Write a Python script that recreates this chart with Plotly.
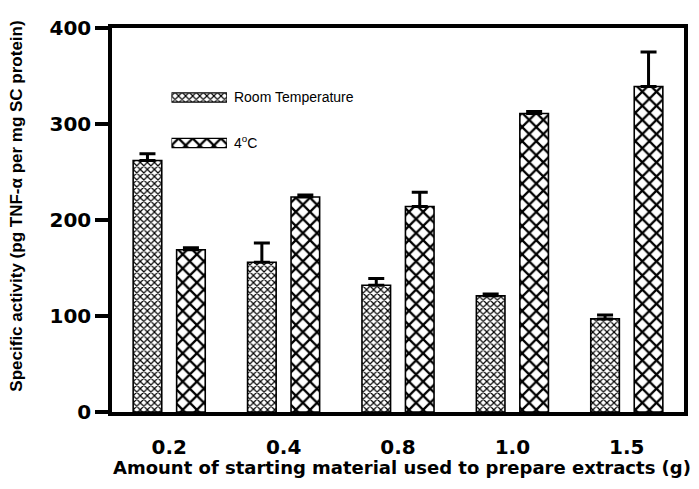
import plotly.graph_objects as go

# Amount of starting material (g) used for each extract
amounts = ["0.2", "0.4", "0.8", "1.0", "1.5"]

# Specific activity (pg TNF-alpha per mg SC protein), mean and upper error
room_temp = [262, 156, 132, 121, 97]
room_temp_err = [7, 20, 7, 2, 4]
cold_4c = [169, 224, 214, 311, 339]
cold_4c_err = [2, 2, 15, 2, 36]

series_names = ["Room Temperature", "4<sup>o</sup>C"]

BOLD = dict(family="DejaVu Sans", size=20, color="black", weight="bold")

fine_check = dict(shape="x", size=5, solidity=0.42, fgcolor="black", bgcolor="white", fillmode="replace")
coarse_check = dict(shape="x", size=10, solidity=0.4, fgcolor="black", bgcolor="white", fillmode="replace")

fig = go.Figure()

fig.add_trace(go.Bar(
    x=amounts, y=room_temp, name=series_names[0],
    width=0.25, offset=-0.315,
    marker=dict(color="white", pattern=fine_check, line=dict(color="black", width=1.6)),
    error_y=dict(type="data", symmetric=False, array=room_temp_err,
                 arrayminus=[0] * len(room_temp_err),
                 color="black", thickness=3, width=8),
    showlegend=False,
))
fig.add_trace(go.Bar(
    x=amounts, y=cold_4c, name=series_names[1],
    width=0.25, offset=0.065,
    marker=dict(color="white", pattern=coarse_check, line=dict(color="black", width=1.6)),
    error_y=dict(type="data", symmetric=False, array=cold_4c_err,
                 arrayminus=[0] * len(cold_4c_err),
                 color="black", thickness=3, width=8),
    showlegend=False,
))

# Key: one thin swatch per series on a small inset axis, labelled by its ticks
for name, pat in zip(series_names, [fine_check, coarse_check]):
    fig.add_trace(go.Bar(
        x=[1], y=[name], orientation="h", width=0.2,
        marker=dict(color="white", pattern=pat, line=dict(color="black", width=1.2)),
        xaxis="x2", yaxis="y2", showlegend=False, hoverinfo="skip",
    ))

fig.update_layout(
    width=699, height=489,
    margin=dict(l=112, r=11, t=28, b=77),
    paper_bgcolor="white", plot_bgcolor="white",
    barmode="overlay",
    xaxis=dict(
        type="category", categoryorder="array", categoryarray=amounts,
        range=[-0.5, 4.5],
        showline=True, linewidth=3.5, linecolor="black", mirror=True,
        ticks="", showgrid=False, zeroline=False,
        tickfont=BOLD, ticklabelstandoff=14,
    ),
    yaxis=dict(
        range=[0, 400], tickvals=[0, 100, 200, 300, 400],
        showline=True, linewidth=3.5, linecolor="black", mirror=True,
        ticks="outside", ticklen=13, tickwidth=3.5, tickcolor="black",
        showgrid=False, zeroline=False,
        tickfont=BOLD, ticklabelstandoff=0,
    ),
    xaxis2=dict(domain=[0.104, 0.201], anchor="y2", range=[0, 1], visible=False, fixedrange=True),
    yaxis2=dict(domain=[0.6413, 0.8783], anchor="x2", type="category",
                categoryorder="array", categoryarray=series_names[::-1],
                range=[-0.5, 1.5], side="right", showline=False, ticks="",
                showgrid=False, zeroline=False, ticklabelstandoff=6,
                tickfont=dict(family="Liberation Sans", size=14, color="black")),
    annotations=[
        dict(
            text="Specific activity (pg TNF-α per mg SC protein)",
            textangle=-90, xref="paper", yref="paper",
            x=-0.1667, y=0.5365, xanchor="center", yanchor="middle", showarrow=False,
            font=dict(family="Liberation Sans", size=17, color="black", weight="bold"),
        ),
        dict(
            text="Amount of starting material used to prepare extracts (g)",
            xref="paper", yref="paper",
            x=0.507, y=-0.1458, xanchor="center", yanchor="middle", showarrow=False,
            font=dict(family="DejaVu Sans", size=18, color="black", weight="bold"),
        ),
    ],
)

fig.write_html("out.html")
